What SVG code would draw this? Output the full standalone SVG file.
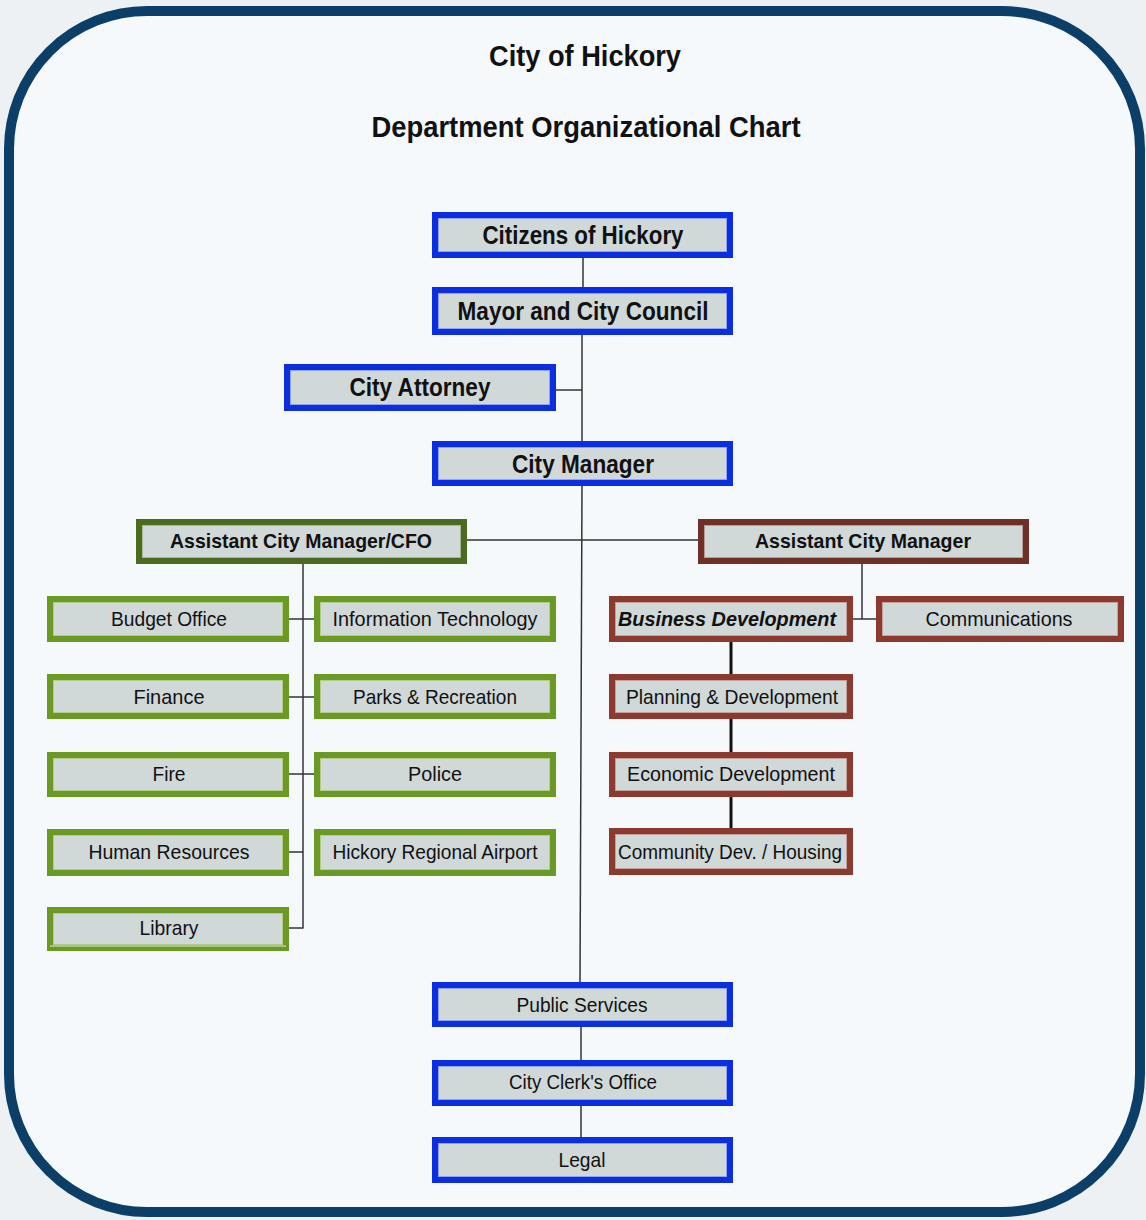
<svg xmlns="http://www.w3.org/2000/svg" width="1146" height="1220" viewBox="0 0 1146 1220">
<defs>
<style>
.bx rect.o{stroke-width:6;}
.blue rect.o{fill:#d0d8d8;stroke:#0b2ee0;}
.blue rect.i{fill:none;stroke:#8fa2ea;stroke-width:1;}
.green rect.o{fill:#d0d8d8;stroke:#6a9a24;}
.green rect.i{fill:none;stroke:#b3cc8e;stroke-width:1;}
.dgreen rect.o{fill:#d0d8d8;stroke:#4b6b20;}
.dgreen rect.i{fill:none;stroke:#a7b694;stroke-width:1;}
.brown rect.o{fill:#d0d8d8;stroke:#8c3a2f;}
.brown rect.i{fill:none;stroke:#c3a09a;stroke-width:1;}
.dbrown rect.o{fill:#d0d8d8;stroke:#6f3127;}
.dbrown rect.i{fill:none;stroke:#b69c98;stroke-width:1;}
text{font-family:"Liberation Sans",Arial,sans-serif;fill:#111;text-anchor:middle;}
.t1{font-size:25px;font-weight:bold;}
.t2{font-size:21px;font-weight:bold;}
.t3{font-size:21px;}
.title{font-size:29px;font-weight:bold;}
.cn line{stroke:#333;stroke-width:1.5;}
.cn line.thick{stroke:#111;stroke-width:3;}
</style>
</defs>
<rect x="0" y="0" width="1146" height="1220" fill="#edf1f4"/>
<rect x="9" y="11" width="1131" height="1201" rx="138" ry="138" fill="#f5f9fc" stroke="#0c3f68" stroke-width="10"/>
<text class="title" x="585" y="66" textLength="192" lengthAdjust="spacingAndGlyphs">City of Hickory</text>
<text class="title" x="586" y="137" font-size="28" textLength="429" lengthAdjust="spacingAndGlyphs">Department Organizational Chart</text>

<g id="connectors" class="cn">
<line x1="583" y1="258" x2="583" y2="287"/>
<line x1="582" y1="335" x2="582" y2="441"/>
<line x1="556" y1="390" x2="582" y2="390"/>
<line x1="582" y1="486" x2="580" y2="982"/>
<line x1="467" y1="540" x2="698" y2="540"/>
<line x1="303" y1="564" x2="303" y2="928.5"/>
<line x1="289" y1="619" x2="314" y2="619"/>
<line x1="289" y1="697" x2="314" y2="697"/>
<line x1="289" y1="774" x2="314" y2="774"/>
<line x1="289" y1="852" x2="303" y2="852"/>
<line x1="289" y1="928" x2="303" y2="928"/>
<line x1="862" y1="564" x2="862" y2="619"/>
<line x1="853" y1="619" x2="876" y2="619"/>
<line class="thick" x1="731" y1="642" x2="731" y2="674"/>
<line class="thick" x1="731" y1="719" x2="731" y2="752"/>
<line class="thick" x1="731" y1="797" x2="731" y2="828"/>
<line x1="581" y1="1027" x2="581" y2="1060"/>
<line x1="581" y1="1106" x2="581" y2="1137"/>
</g>

<g id="citizens" class="bx blue"><rect class="o" x="435" y="215" width="295" height="40"/><rect class="i" x="438.5" y="218.5" width="288" height="33"/><text class="t1" x="583" y="244" textLength="201" lengthAdjust="spacingAndGlyphs">Citizens of Hickory</text></g>
<g id="mayor" class="bx blue"><rect class="o" x="435" y="290" width="295" height="42"/><rect class="i" x="438.5" y="293.5" width="288" height="35"/><text class="t1" x="583" y="320" textLength="251" lengthAdjust="spacingAndGlyphs">Mayor and City Council</text></g>
<g id="attorney" class="bx blue"><rect class="o" x="287" y="367" width="266" height="41"/><rect class="i" x="290.5" y="370.5" width="259" height="34"/><text class="t1" x="420" y="396" textLength="141" lengthAdjust="spacingAndGlyphs">City Attorney</text></g>
<g id="manager" class="bx blue"><rect class="o" x="435" y="444" width="295" height="39"/><rect class="i" x="438.5" y="447.5" width="288" height="32"/><text class="t1" x="583" y="473" textLength="142" lengthAdjust="spacingAndGlyphs">City Manager</text></g>

<g id="acm-cfo" class="bx dgreen"><rect class="o" x="139" y="522" width="325" height="39"/><rect class="i" x="142.5" y="525.5" width="318" height="32"/><text class="t2" x="301" y="548" textLength="262" lengthAdjust="spacingAndGlyphs">Assistant City Manager/CFO</text></g>
<g id="acm" class="bx dbrown"><rect class="o" x="701" y="522" width="325" height="39"/><rect class="i" x="704.5" y="525.5" width="318" height="32"/><text class="t2" x="863" y="548" textLength="216" lengthAdjust="spacingAndGlyphs">Assistant City Manager</text></g>

<g id="budget" class="bx green"><rect class="o" x="50" y="599" width="236" height="40"/><rect class="i" x="53.5" y="602.5" width="229" height="33"/><text class="t3" x="169" y="626" textLength="116" lengthAdjust="spacingAndGlyphs">Budget Office</text></g>
<g id="it" class="bx green"><rect class="o" x="317" y="599" width="236" height="40"/><rect class="i" x="320.5" y="602.5" width="229" height="33"/><text class="t3" x="435" y="626" textLength="205" lengthAdjust="spacingAndGlyphs">Information Technology</text></g>
<g id="finance" class="bx green"><rect class="o" x="50" y="677" width="236" height="39"/><rect class="i" x="53.5" y="680.5" width="229" height="32"/><text class="t3" x="169" y="704" textLength="71" lengthAdjust="spacingAndGlyphs">Finance</text></g>
<g id="parks" class="bx green"><rect class="o" x="317" y="677" width="236" height="39"/><rect class="i" x="320.5" y="680.5" width="229" height="32"/><text class="t3" x="435" y="704" textLength="164" lengthAdjust="spacingAndGlyphs">Parks &amp; Recreation</text></g>
<g id="fire" class="bx green"><rect class="o" x="50" y="755" width="236" height="39"/><rect class="i" x="53.5" y="758.5" width="229" height="32"/><text class="t3" x="169" y="781" textLength="33" lengthAdjust="spacingAndGlyphs">Fire</text></g>
<g id="police" class="bx green"><rect class="o" x="317" y="755" width="236" height="39"/><rect class="i" x="320.5" y="758.5" width="229" height="32"/><text class="t3" x="435" y="781" textLength="54" lengthAdjust="spacingAndGlyphs">Police</text></g>
<g id="hr" class="bx green"><rect class="o" x="50" y="832" width="236" height="41"/><rect class="i" x="53.5" y="835.5" width="229" height="34"/><text class="t3" x="169" y="859" textLength="161" lengthAdjust="spacingAndGlyphs">Human Resources</text></g>
<g id="airport" class="bx green"><rect class="o" x="317" y="832" width="236" height="41"/><rect class="i" x="320.5" y="835.5" width="229" height="34"/><text class="t3" x="435" y="859" textLength="205" lengthAdjust="spacingAndGlyphs">Hickory Regional Airport</text></g>
<g id="library" class="bx green"><rect class="o" x="50" y="910" width="236" height="38"/><rect class="i" x="53.5" y="913.5" width="229" height="31"/><line x1="50" y1="946" x2="286" y2="946" stroke="#e8efe0" stroke-width="1"/><text class="t3" x="169" y="935" textLength="59" lengthAdjust="spacingAndGlyphs">Library</text></g>

<g id="business-development" class="bx brown"><rect class="o" x="612" y="599" width="238" height="40"/><rect class="i" x="615.5" y="602.5" width="231" height="33"/><text class="t3" x="727" y="626" font-weight="bold" font-style="italic" textLength="218" lengthAdjust="spacingAndGlyphs">Business Development</text></g>
<g id="communications" class="bx brown"><rect class="o" x="879" y="599" width="242" height="40"/><rect class="i" x="882.5" y="602.5" width="235" height="33"/><text class="t3" x="999" y="626" textLength="147" lengthAdjust="spacingAndGlyphs">Communications</text></g>
<g id="planning" class="bx brown"><rect class="o" x="612" y="677" width="238" height="39"/><rect class="i" x="615.5" y="680.5" width="231" height="32"/><text class="t3" x="732" y="704" textLength="212" lengthAdjust="spacingAndGlyphs">Planning &amp; Development</text></g>
<g id="economic" class="bx brown"><rect class="o" x="612" y="755" width="238" height="39"/><rect class="i" x="615.5" y="758.5" width="231" height="32"/><text class="t3" x="731" y="781" textLength="208" lengthAdjust="spacingAndGlyphs">Economic Development</text></g>
<g id="community" class="bx brown"><rect class="o" x="612" y="831" width="238" height="41"/><rect class="i" x="615.5" y="834.5" width="231" height="34"/><text class="t3" x="730" y="859" textLength="224" lengthAdjust="spacingAndGlyphs">Community Dev. / Housing</text></g>

<g id="public-services" class="bx blue"><rect class="o" x="435" y="985" width="295" height="39"/><rect class="i" x="438.5" y="988.5" width="288" height="32"/><text class="t3" x="582" y="1012" textLength="131" lengthAdjust="spacingAndGlyphs">Public Services</text></g>
<g id="clerk" class="bx blue"><rect class="o" x="435" y="1063" width="295" height="40"/><rect class="i" x="438.5" y="1066.5" width="288" height="33"/><text class="t3" x="583" y="1089" textLength="148" lengthAdjust="spacingAndGlyphs">City Clerk's Office</text></g>
<g id="legal" class="bx blue"><rect class="o" x="435" y="1140" width="295" height="40"/><rect class="i" x="438.5" y="1143.5" width="288" height="33"/><text class="t3" x="582" y="1167" textLength="47" lengthAdjust="spacingAndGlyphs">Legal</text></g>
</svg>
